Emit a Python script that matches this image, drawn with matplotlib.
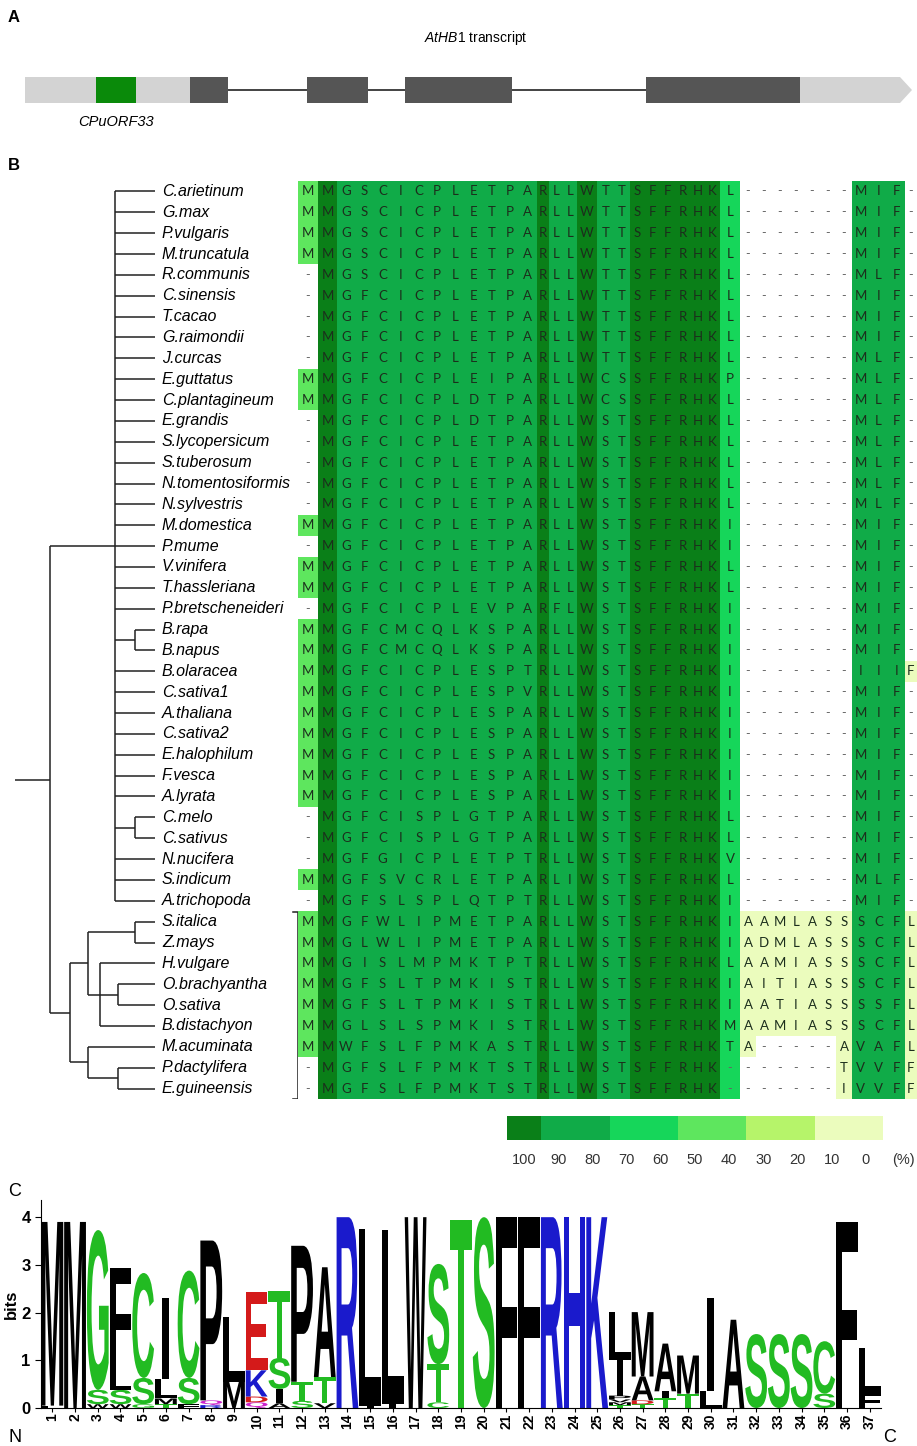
import matplotlib
matplotlib.use('Agg')
import numpy as np
import matplotlib.pyplot as plt
from matplotlib.patches import Rectangle, Polygon, PathPatch
from matplotlib.textpath import TextPath
from matplotlib.font_manager import FontProperties
from matplotlib.transforms import Affine2D
from matplotlib.colors import ListedColormap

plt.rcParams['font.family'] = ['Liberation Sans', 'DejaVu Sans']
plt.rcParams['mathtext.fontset'] = 'custom'
plt.rcParams['mathtext.it'] = 'Liberation Sans:italic'
plt.rcParams['mathtext.rm'] = 'Liberation Sans'

W, H = 917, 1446

# ---------------- A: transcript model (transcript coordinates)
utr5 = (25, 190)
uorf = (96, 136)
exons = [(190, 228), (307, 368), (405, 512), (646, 800)]
utr3 = (800, 912)

# ---------------- B: alignment
species = ['C.arietinum', 'G.max', 'P.vulgaris', 'M.truncatula', 'R.communis',
           'C.sinensis', 'T.cacao', 'G.raimondii', 'J.curcas', 'E.guttatus',
           'C.plantagineum', 'E.grandis', 'S.lycopersicum', 'S.tuberosum',
           'N.tomentosiformis', 'N.sylvestris', 'M.domestica', 'P.mume',
           'V.vinifera', 'T.hassleriana', 'P.bretscheneideri', 'B.rapa', 'B.napus',
           'B.olaracea', 'C.sativa1', 'A.thaliana', 'C.sativa2', 'E.halophilum',
           'F.vesca', 'A.lyrata', 'C.melo', 'C.sativus', 'N.nucifera', 'S.indicum',
           'A.trichopoda', 'S.italica', 'Z.mays', 'H.vulgare', 'O.brachyantha',
           'O.sativa', 'B.distachyon', 'M.acuminata', 'P.dactylifera', 'E.guineensis']

seqs = [
    'MMGSCICPLETPARLLWTTSFFRHKL-------MIF-',
    'MMGSCICPLETPARLLWTTSFFRHKL-------MIF-',
    'MMGSCICPLETPARLLWTTSFFRHKL-------MIF-',
    'MMGSCICPLETPARLLWTTSFFRHKL-------MIF-',
    '-MGSCICPLETPARLLWTTSFFRHKL-------MLF-',
    '-MGFCICPLETPARLLWTTSFFRHKL-------MIF-',
    '-MGFCICPLETPARLLWTTSFFRHKL-------MIF-',
    '-MGFCICPLETPARLLWTTSFFRHKL-------MIF-',
    '-MGFCICPLETPARLLWTTSFFRHKL-------MLF-',
    'MMGFCICPLEIPARLLWCSSFFRHKP-------MLF-',
    'MMGFCICPLDTPARLLWCSSFFRHKL-------MLF-',
    '-MGFCICPLDTPARLLWSTSFFRHKL-------MLF-',
    '-MGFCICPLETPARLLWSTSFFRHKL-------MLF-',
    '-MGFCICPLETPARLLWSTSFFRHKL-------MLF-',
    '-MGFCICPLETPARLLWSTSFFRHKL-------MLF-',
    '-MGFCICPLETPARLLWSTSFFRHKL-------MLF-',
    'MMGFCICPLETPARLLWSTSFFRHKI-------MIF-',
    '-MGFCICPLETPARLLWSTSFFRHKI-------MIF-',
    'MMGFCICPLETPARLLWSTSFFRHKL-------MIF-',
    'MMGFCICPLETPARLLWSTSFFRHKL-------MIF-',
    '-MGFCICPLEVPARFLWSTSFFRHKI-------MIF-',
    'MMGFCMCQLKSPARLLWSTSFFRHKI-------MIF-',
    'MMGFCMCQLKSPARLLWSTSFFRHKI-------MIF-',
    'MMGFCICPLESPTRLLWSTSFFRHKI-------IIIF',
    'MMGFCICPLESPVRLLWSTSFFRHKI-------MIF-',
    'MMGFCICPLESPARLLWSTSFFRHKI-------MIF-',
    'MMGFCICPLESPARLLWSTSFFRHKI-------MIF-',
    'MMGFCICPLESPARLLWSTSFFRHKI-------MIF-',
    'MMGFCICPLESPARLLWSTSFFRHKI-------MIF-',
    'MMGFCICPLESPARLLWSTSFFRHKI-------MIF-',
    '-MGFCISPLGTPARLLWSTSFFRHKL-------MIF-',
    '-MGFCISPLGTPARLLWSTSFFRHKL-------MIF-',
    '-MGFGICPLETPTRLLWSTSFFRHKV-------MIF-',
    'MMGFSVCRLETPARLIWSTSFFRHKL-------MLF-',
    '-MGFSLSPLQTPTRLLWSTSFFRHKI-------MIF-',
    'MMGFWLIPMETPARLLWSTSFFRHKIAAMLASSSCFL',
    'MMGLWLIPMETPARLLWSTSFFRHKIADMLASSSCFL',
    'MMGISLMPMKTPTRLLWSTSFFRHKLAAMIASSSCFL',
    'MMGFSLTPMKISTRLLWSTSFFRHKIAITIASSSCFL',
    'MMGFSLTPMKISTRLLWSTSFFRHKIAATIASSSSFL',
    'MMGLSLSPMKISTRLLWSTSFFRHKMAAMIASSSCFL',
    'MMWFSLFPMKASTRLLWSTSFFRHKTA-----AVAFL',
    '-MGFSLFPMKTSTRLLWSTSFFRHK-------TVVFF',
    '-MGFSLFPMKTSTRLLWSTSFFRHK-------IVVFF',
]

# conservation class of each column (0 = 100 %, 5 = 10-0 %)
col_class = [3, 0] + [1] * 11 + [0, 1, 1, 0, 1, 1] + [0] * 6 + [2] + [5] * 7 + [1] * 3 + [5]
shade_all = [25]

cb_colors = ['#0a7f18', '#10ab48', '#16d65a', '#5ee65e', '#b6f46a', '#ebfcbd']
cb_labels = ['100', '90', '80', '70', '60', '50', '40', '30', '20', '10', '0']

# tree: (name or children, branch length)
dicot_leaves = [(s, 40) for s in species[:21]] + \
    [([('B.rapa', 20), ('B.napus', 20)], 20)] + \
    [(s, 40) for s in species[23:30]] + \
    [([('C.melo', 20), ('C.sativus', 20)], 20)] + \
    [(s, 40) for s in species[32:35]]
tree = ([
    (dicot_leaves, 65),
    ([
        ([
            ([('S.italica', 20), ('Z.mays', 20)], 47),
            ([('H.vulgare', 55),
              ([('O.brachyantha', 37), ('O.sativa', 37)], 18),
              ('B.distachyon', 55)], 12),
        ], 18),
        ([('M.acuminata', 67),
          ([('P.dactylifera', 37), ('E.guineensis', 37)], 30)], 18),
    ], 20),
], 35)

# ---------------- C: sequence logo (letter, bits), bottom to top
logo = [
    [('L', 0.05), ('M', 3.85)],
    [('M', 3.9)],
    [('W', 0.08), ('S', 0.3), ('G', 3.35)],
    [('W', 0.08), ('S', 0.3), ('L', 0.5), ('F', 2.05)],
    [('G', 0.08), ('S', 0.55), ('C', 2.2)],
    [('T', 0.08), ('M', 0.12), ('L', 0.4), ('I', 1.7)],
    [('F', 0.08), ('S', 0.55), ('C', 2.25)],
    [('R', 0.06), ('Q', 0.1), ('P', 3.35)],
    [('M', 0.55), ('L', 1.35)],
    [('Q', 0.12), ('D', 0.12), ('K', 0.55), ('E', 1.65)],
    [('A', 0.1), ('I', 0.3), ('S', 0.65), ('T', 1.4)],
    [('S', 0.15), ('T', 0.4), ('P', 2.85)],
    [('V', 0.1), ('T', 0.55), ('A', 2.3)],
    [('R', 4.0)],
    [('I', 0.05), ('L', 3.7)],
    [('I', 0.08), ('L', 3.65)],
    [('W', 4.0)],
    [('C', 0.12), ('T', 0.8), ('S', 2.1)],
    [('T', 3.95)],
    [('S', 4.0)],
    [('F', 4.0)],
    [('F', 4.0)],
    [('R', 4.0)],
    [('H', 4.0)],
    [('K', 4.0)],
    [('T', 0.06), ('M', 0.06), ('V', 0.06), ('P', 0.08), ('I', 0.75), ('L', 1.0)],
    [('T', 0.08), ('D', 0.08), ('A', 0.5), ('M', 1.35)],
    [('T', 0.2), ('I', 0.15), ('A', 1.0)],
    [('T', 0.3), ('M', 0.8)],
    [('L', 0.35), ('I', 1.95)],
    [('A', 1.85)],
    [('S', 1.55)],
    [('S', 1.55)],
    [('S', 1.55)],
    [('S', 0.3), ('C', 1.1)],
    [('F', 3.9)],
    [('F', 0.3), ('L', 0.95)],
]

aa_color = {}
for a in 'GSTYC':
    aa_color[a] = '#22bb22'
for a in 'NQ':
    aa_color[a] = '#cc22cc'
for a in 'KRH':
    aa_color[a] = '#1a1acc'
for a in 'DE':
    aa_color[a] = '#d41a1a'


def box(x0, y0, x1, y1):
    return [x0 / W, 1 - y1 / H, (x1 - x0) / W, (y1 - y0) / H]


fig = plt.figure(figsize=(W / 100, H / 100), dpi=100)

# ===== panel A
axA = fig.add_axes(box(0, 0, W, 170))
axA.set_xlim(0, W)
axA.set_ylim(170, 0)
axA.axis('off')
yc, hh = 90, 26
axA.add_patch(Rectangle((utr5[0], yc - hh / 2), utr5[1] - utr5[0], hh, color='#d3d3d3', lw=0))
axA.add_patch(Polygon([(utr3[0], yc - hh / 2), (utr3[1] - 12, yc - hh / 2), (utr3[1], yc),
                       (utr3[1] - 12, yc + hh / 2), (utr3[0], yc + hh / 2)],
                      closed=True, color='#d3d3d3', lw=0))
axA.plot([exons[0][1], exons[-1][0]], [yc, yc], color='#222222', lw=1.2, zorder=1)
for s, e in exons:
    axA.add_patch(Rectangle((s, yc - hh / 2), e - s, hh, color='#555555', lw=0, zorder=2))
axA.add_patch(Rectangle((uorf[0], yc - hh / 2), uorf[1] - uorf[0], hh, color='#0a8a0a', lw=0, zorder=2))
axA.text(476, 38, r'$\mathit{AtHB1}$ transcript', ha='center', va='center', fontsize=10)
axA.text((uorf[0] + uorf[1]) / 2, 122, 'CPuORF33', ha='center', va='center',
         fontsize=10.5, style='italic')
fig.text(8 / W, 1 - 18 / H, 'A', fontsize=12, fontweight='bold', va='center')
fig.text(8 / W, 1 - 165 / H, 'B', fontsize=12, fontweight='bold', va='center')
fig.text(8 / W, 1 - 1192 / H, 'C', fontsize=13, va='center')

# ===== panel B: tree
nrow = len(species)
top, bot = 181, 1099
axT = fig.add_axes(box(0, top, 300, bot))
axT.set_xlim(0, 300)
axT.set_ylim(nrow - 0.5, -0.5)
axT.axis('off')
lk = dict(color='#222222', lw=1.1, solid_capstyle='butt')


def draw(node, x0):
    lab, ln = node
    x1 = x0 + ln
    if isinstance(lab, str):
        y = species.index(lab)
        axT.plot([x0, x1], [y, y], **lk)
        axT.text(x1 + 7, y, lab, ha='left', va='center', fontsize=11.5, style='italic')
        return y
    ys = [draw(c, x1) for c in lab]
    axT.plot([x1, x1], [min(ys), max(ys)], **lk)
    y = (min(ys) + max(ys)) / 2
    axT.plot([x0, x1], [y, y], **lk)
    return y


draw(tree, 15)
# monocot bracket
b0, b1 = species.index('S.italica') - 0.45, nrow - 0.5
axT.plot([293, 298, 298, 293], [b0, b0, b1, b1], color='#222222', lw=1.1)

# ===== panel B: alignment (column widths follow the proportional text of the original)
ncol = len(seqs[0])
col_w = [20, 19] + [200 / 11] * 11 + [12, 14, 14, 20, 16.5, 16.5] + [15] * 6 + [20] + \
    [16] * 7 + [53 / 3] * 3 + [12]
xedges = 298 + np.concatenate([[0], np.cumsum(col_w)])
xcent = (xedges[:-1] + xedges[1:]) / 2
yedges = np.arange(nrow + 1) - 0.5

cls = np.full((nrow, ncol), 6)
for r, s in enumerate(seqs):
    for c, aa in enumerate(s):
        if aa != '-' or c in shade_all:
            cls[r, c] = col_class[c]

axL = fig.add_axes(box(298, top, W, bot))
axL.pcolormesh(xedges, yedges, cls, cmap=ListedColormap(cb_colors + ['white']),
               vmin=-0.5, vmax=6.5, shading='flat')
for r, s in enumerate(seqs):
    for c, aa in enumerate(s):
        if aa == '-':
            axL.text(xcent[c], r, '-', ha='center', va='center', fontsize=9, color='#666666',
                     family='Lato')
        else:
            axL.text(xcent[c], r, aa, ha='center', va='center', fontsize=9.5, color='#1c2e1c',
                     family='Lato')
axL.set_xlim(298, W)
axL.set_ylim(nrow - 0.5, -0.5)
axL.axis('off')

# colour key
axK = fig.add_axes(box(507, 1116, 883, 1140))
centers = [0, 1.5, 3.5, 5.5, 7.5, 9.5]
widths = [1, 2, 2, 2, 2, 2]
axK.bar(centers, 1, width=widths, bottom=0, color=cb_colors, lw=0)
axK.set_xlim(-0.5, 10.5)
axK.set_ylim(0, 1)
axK.axis('off')
for i, t in enumerate(cb_labels):
    axK.text(i, -0.55, t, ha='center', va='top', fontsize=10.5, color='#333333')
axK.text(11.1, -0.55, '(%)', ha='center', va='top', fontsize=10.5, color='#333333')

# ===== panel C: logo
axC = fig.add_axes(box(41, 1200, 881, 1408))
fp = FontProperties(family='Liberation Sans', weight='bold')
for i, stack in enumerate(logo):
    xpos = i + 1
    y0 = 0
    for aa, h in stack:
        p = TextPath((0, 0), aa, size=1, prop=fp)
        bb = p.get_extents()
        w = 0.3 if aa == 'I' else 0.96
        tr = Affine2D().translate(-bb.x0, -bb.y0).scale(w / bb.width, h / bb.height) \
            .translate(xpos - w / 2, y0)
        axC.add_patch(PathPatch(p, transform=tr + axC.transData,
                                fc=aa_color.get(aa, 'black'), ec='none'))
        y0 += h
axC.set_xlim(0.5, len(logo) + 0.5)
axC.set_ylim(0, 4.36)
axC.set_xticks(range(1, len(logo) + 1))
axC.set_xticklabels([str(i) for i in range(1, len(logo) + 1)], rotation=90,
                    fontsize=10, fontweight='bold')
axC.set_yticks([0, 1, 2, 3, 4])
axC.set_yticklabels(['0', '1', '2', '3', '4'], fontsize=12, fontweight='bold')
axC.set_ylabel('bits', fontsize=12, fontweight='bold', labelpad=2)
axC.spines['top'].set_visible(False)
axC.spines['right'].set_visible(False)
axC.tick_params(axis='x', length=3, pad=1)
axC.tick_params(axis='y', length=4)
fig.text(15 / W, 1 - 1437 / H, 'N', fontsize=13, va='center', ha='center')
fig.text(890 / W, 1 - 1437 / H, 'C', fontsize=13, va='center', ha='center')

fig.savefig('out.png', dpi=100)
